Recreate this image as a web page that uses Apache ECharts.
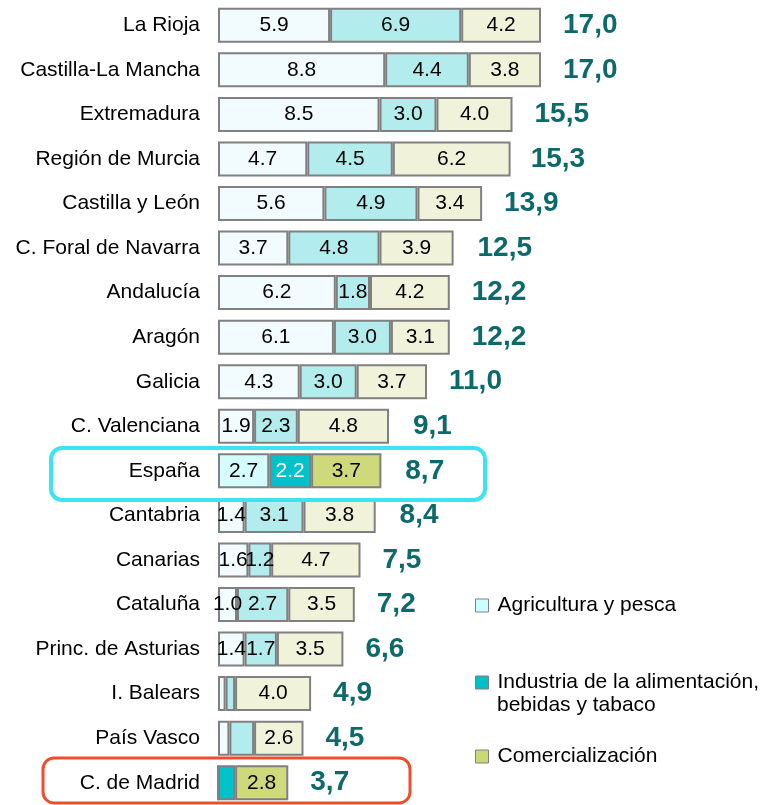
<!DOCTYPE html>
<html>
<head>
<meta charset="utf-8">
<script src="https://cdn.jsdelivr.net/npm/echarts@6/dist/echarts.min.js"></script>
<style>
  html, body { margin: 0; padding: 0; background: #fff; }
  #chart { width: 765px; height: 805px; }
</style>
</head>
<body>
<div id="chart"></div>
<script>
// datos
var categorias = ['La Rioja', 'Castilla-La Mancha', 'Extremadura', 'Región de Murcia', 'Castilla y León',
  'C. Foral de Navarra', 'Andalucía', 'Aragón', 'Galicia', 'C. Valenciana', 'España', 'Cantabria',
  'Canarias', 'Cataluña', 'Princ. de Asturias', 'I. Balears', 'País Vasco', 'C. de Madrid'];
var agricultura = [5.9, 8.8, 8.5, 4.7, 5.6, 3.7, 6.2, 6.1, 4.3, 1.9, 2.7, 1.4, 1.6, 1.0, 1.4, 0.4, 0.6, 0.0];
var industria = [6.9, 4.4, 3.0, 4.5, 4.9, 4.8, 1.8, 3.0, 3.0, 2.3, 2.2, 3.1, 1.2, 2.7, 1.7, 0.5, 1.3, 0.9];
var comercializacion = [4.2, 3.8, 4.0, 6.2, 3.4, 3.9, 4.2, 3.1, 3.7, 4.8, 3.7, 3.8, 4.7, 3.5, 3.5, 4.0, 2.6, 2.8];
var totales = [17.0, 17.0, 15.5, 15.3, 13.9, 12.5, 12.2, 12.2, 11.0, 9.1, 8.7, 8.4, 7.5, 7.2, 6.6, 4.9, 4.5, 3.7];
// regiones sin etiqueta en agricultura e industria
var sinEtiqueta = ['I. Balears', 'País Vasco', 'C. de Madrid'];
var destacadas = ['España', 'C. de Madrid'];

var nombres = ['Agricultura y pesca', 'Industria de la alimentación, bebidas y tabaco', 'Comercialización'];
var coloresNormal = ['#F2FCFE', '#B3ECEC', '#F0F2D9'];
var coloresDestacado = ['#D4FCFC', '#00C2C8', '#CDD97A'];
var coloresLeyenda = ['#CCFFFF', '#00C0C8', '#CCD877'];

var fuente = '"Liberation Sans", Arial, sans-serif';

function serie(idx, valores, ocultar) {
  return {
    name: nombres[idx],
    type: 'bar',
    stack: 'total',
    barWidth: 35,
    silent: true,
    itemStyle: { color: coloresNormal[idx], borderColor: '#808080', borderWidth: 2 },
    label: {
      show: true,
      position: 'inside',
      fontFamily: fuente,
      fontSize: 21,
      color: '#000',
      formatter: function (p) { return p.value.toFixed(1); }
    },
    data: valores.map(function (v, i) {
      var item = { value: v };
      if (destacadas.indexOf(categorias[i]) >= 0) {
        item.itemStyle = { color: coloresDestacado[idx] };
        if (idx === 1) item.label = { color: '#fff' };
      }
      if (ocultar && sinEtiqueta.indexOf(categorias[i]) >= 0) {
        item.label = { show: false };
      }
      return item;
    })
  };
}

var myChart = echarts.init(document.getElementById('chart'));
var option = {
  animation: false,
  grid: { left: 218, top: 3, width: 380, height: 802 },
  xAxis: { type: 'value', min: 0, max: 20, show: false },
  yAxis: {
    type: 'category',
    inverse: true,
    data: categorias,
    axisLine: { show: false },
    axisTick: { show: false },
    axisLabel: { fontFamily: fuente, fontSize: 21, color: '#000', margin: 18 }
  },
  legend: [0, 1, 2].map(function (idx) {
    var tops = [595, 672, 746];
    return {
      left: 475,
      top: tops[idx],
      padding: 0,
      selectedMode: false,
      icon: 'rect',
      itemWidth: 13,
      itemHeight: 13,
      itemStyle: { borderColor: '#808080', borderWidth: 1 },
      textStyle: { fontFamily: fuente, fontSize: 21, color: '#000', padding: [0, 0, 0, 4] },
      formatter: function (n) { return idx === 1 ? 'Industria de la alimentación,' : n; },
      data: [{ name: nombres[idx], itemStyle: { color: coloresLeyenda[idx] } }]
    };
  }),
  graphic: [
    { type: 'text', left: 497, top: 695,
      style: { text: 'bebidas y tabaco', font: '21px ' + fuente, fill: '#000' } },
    { type: 'rect', shape: { x: 51, y: 448, width: 434, height: 52, r: 11 },
      style: { fill: 'none', stroke: '#3BE4F0', lineWidth: 4 }, z: 10 },
    { type: 'rect', shape: { x: 43, y: 758, width: 367, height: 45, r: 11 },
      style: { fill: 'none', stroke: '#F04E2A', lineWidth: 3 }, z: 10 }
  ],
  series: [
    serie(0, agricultura, true),
    serie(1, industria, true),
    serie(2, comercializacion, false),
    {
      name: 'total',
      type: 'bar',
      barWidth: 35,
      barGap: '-100%',
      silent: true,
      itemStyle: { color: 'rgba(0,0,0,0)' },
      label: {
        show: true,
        position: 'right',
        distance: 22,
        fontFamily: fuente,
        fontWeight: 'bold',
        fontSize: 28,
        color: '#0D6A6A',
        formatter: function (p) { return p.value.toFixed(1).replace('.', ','); }
      },
      data: totales
    }
  ]
};
option && myChart.setOption(option);
</script>
</body>
</html>
